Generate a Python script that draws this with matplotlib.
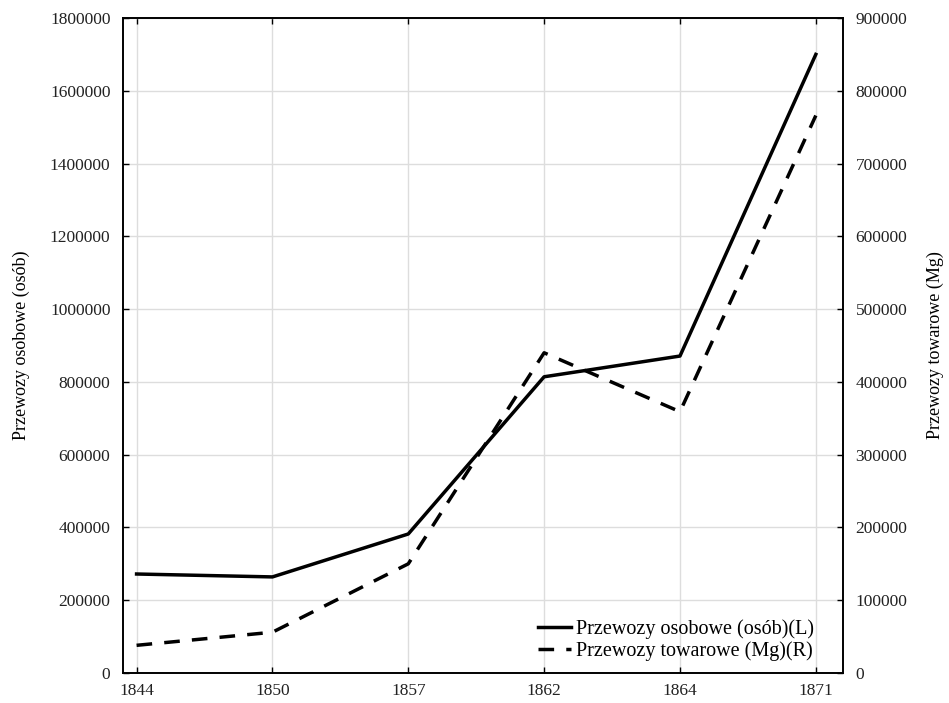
import matplotlib.pyplot as plt
from matplotlib.ticker import FuncFormatter

# dane
lata = ['1844', '1850', '1857', '1862', '1864', '1871']
osobowe = [272000, 264000, 382000, 814000, 871000, 1700000]
towarowe = [38000, 56000, 150000, 440000, 359000, 766000]

plt.rcParams['font.family'] = ['Liberation Serif', 'DejaVu Serif']

fig = plt.figure(figsize=(9.49, 7.03), dpi=100)
ax = fig.add_axes([0.1296, 0.0427, 0.7587, 0.9317])
ax2 = ax.twinx()

x = list(range(len(lata)))
l1, = ax.plot(x, osobowe, color='black', lw=2.5, label='Przewozy osobowe (osób)(L)', zorder=3)
l2, = ax2.plot(x, towarowe, color='black', lw=2.5, ls=(0, (4.5, 3.5)),
               label='Przewozy towarowe (Mg)(R)', zorder=3)

ax.set_xlim(-0.1, 5.2)
ax.set_ylim(0, 1800000)
ax2.set_ylim(0, 900000)
ax.set_xticks(x)
ax.set_xticklabels(lata)
ax.set_yticks(range(0, 1800001, 200000))
ax2.set_yticks(range(0, 900001, 100000))
fmt = FuncFormatter(lambda v, p: f'{int(v)}')
ax.yaxis.set_major_formatter(fmt)
ax2.yaxis.set_major_formatter(fmt)

ax.grid(True, color='#dddddd', lw=1)
ax.set_axisbelow(True)
for a in (ax, ax2):
    a.tick_params(direction='in', length=4, width=1, colors='black', labelcolor='#222222',
                  labelsize=12.5, pad=9)
    for s in a.spines.values():
        s.set_linewidth(1.2)
ax.tick_params(axis='x', top=True, pad=7)

ax.set_ylabel('Przewozy osobowe (osób)', fontsize=13, labelpad=14)
ax2.set_ylabel('Przewozy towarowe (Mg)', fontsize=13, labelpad=14)

ax.legend(handles=[l1, l2], loc='lower right', frameon=False, fontsize=14.5,
          handlelength=1.65, handletextpad=0.25, labelspacing=0.12,
          bbox_to_anchor=(0.985, -0.01))

fig.savefig('out.png', dpi=100)
